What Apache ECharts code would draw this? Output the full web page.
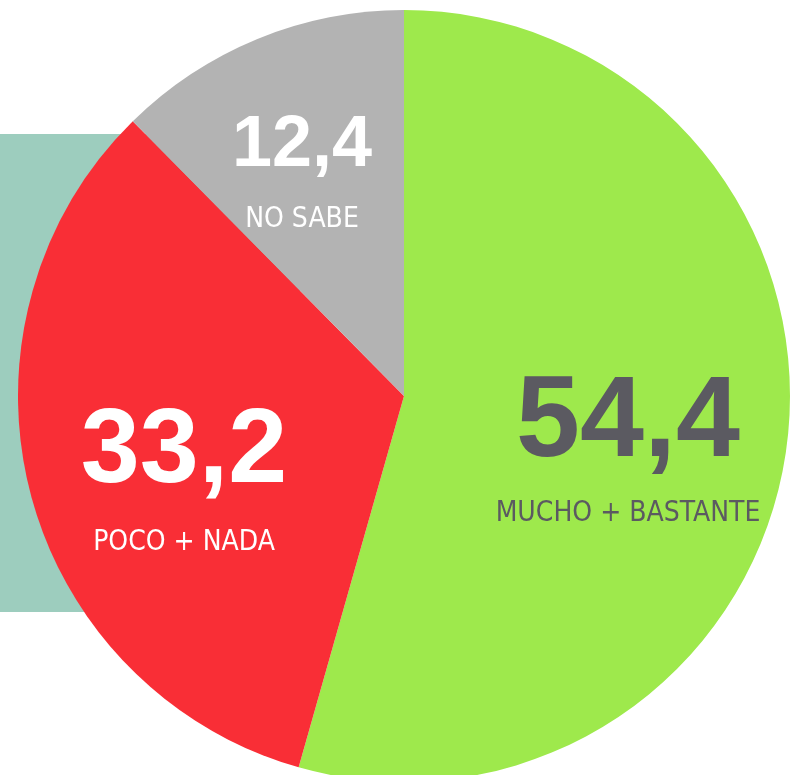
<!DOCTYPE html>
<html>
<head>
<meta charset="utf-8">
<script src="https://cdn.jsdelivr.net/npm/echarts@6/dist/echarts.min.js"></script>
<style>
  html, body { margin: 0; padding: 0; background: #fff; }
  #chart { width: 796px; height: 775px; }
</style>
</head>
<body>
<div id="chart"></div>
<script>
// data
const categories = ['MUCHO + BASTANTE', 'POCO + NADA', 'NO SABE']
const values = [54.4, 33.2, 12.4]
const valueLabels = ['54,4', '33,2', '12,4']
const colors = ['#9ee94c', '#f92e36', '#b3b3b3']

// label look per slice
const labelColors = ['#5b5a61', '#ffffff', '#ffffff']
const valueSizes = [115, 106, 72]
const nameSizes = [28, 28, 28]
const labelPos = [[628, 446], [184, 475], [302, 168]]
const lineGaps = [[136, 44], [136, 44], [104, 44]]

const NUM_FONT = '"Liberation Sans", Arial, sans-serif'
const NAME_FONT = '"DejaVu Sans Condensed", "Liberation Sans", sans-serif'

const chart = echarts.init(document.getElementById('chart'))

const seriesData = categories.map((name, i) => ({
    name: name,
    value: values[i],
    itemStyle: { color: colors[i] },
    label: {
        formatter: '{v|' + valueLabels[i] + '}\n{n|' + name + '}',
        rich: {
            v: {
                fontFamily: NUM_FONT,
                fontWeight: 'bold',
                fontSize: valueSizes[i],
                lineHeight: lineGaps[i][0],
                color: labelColors[i],
                align: 'center'
            },
            n: {
                fontFamily: NAME_FONT,
                fontSize: nameSizes[i],
                lineHeight: lineGaps[i][1],
                color: labelColors[i],
                align: 'center'
            }
        }
    }
}))

const option = {
    animation: false,
    graphic: [
        {
            type: 'rect',
            z: -10,
            shape: { x: 0, y: 134, width: 300, height: 478 },
            style: { fill: '#9dcdbe' }
        }
    ],
    series: [
        {
            type: 'pie',
            center: [404, 396],
            radius: [0, 386],
            startAngle: 90,
            clockwise: true,
            silent: true,
            label: {
                show: true,
                position: 'inside'
            },
            labelLine: { show: false },
            labelLayout: function (params) {
                const p = labelPos[params.dataIndex]
                return { x: p[0], y: p[1], align: 'center', verticalAlign: 'middle' }
            },
            emphasis: { disabled: true },
            data: seriesData
        }
    ]
}

chart.setOption(option)
</script>
</body>
</html>
